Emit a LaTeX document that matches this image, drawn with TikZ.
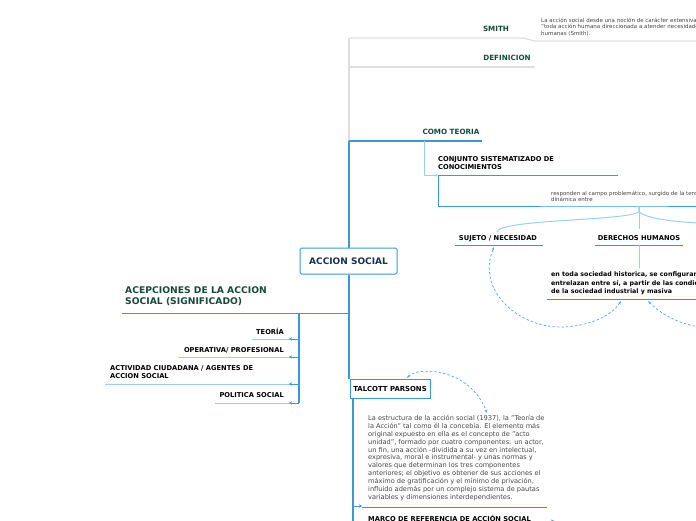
\documentclass[tikz,border=0pt]{standalone}
\usepackage{fontspec}
\setmainfont{DejaVu Sans}
\usetikzlibrary{arrows.meta}
\definecolor{lineblue}{HTML}{3A97DE}
\definecolor{paleblue}{HTML}{9ACFF5}
\definecolor{linegray}{HTML}{DEDEDE}
\definecolor{titlegreen}{HTML}{154A3A}
\definecolor{rootnavy}{HTML}{1B2F57}
\definecolor{notegray}{HTML}{444444}
\tikzset{
  trunk/.style={draw=lineblue, line width=1.2pt},
  uline/.style={draw=lineblue, line width=1pt},
  paleline/.style={draw=paleblue, line width=1pt},
  grayline/.style={draw=linegray, line width=1.2pt},
  tipl/.style={-{Stealth[length=3pt,width=3.5pt]}},
  dashlink/.style={draw=lineblue!85, dash pattern=on 2.5pt off 2pt, line width=0.7pt},
  gtitle/.style={font=\bfseries\fontsize{7.2}{9}\selectfont, text=titlegreen, inner sep=0, align=left},
  btitle/.style={font=\bfseries\fontsize{6.7}{8}\selectfont, inner sep=0, align=left},
  note/.style={font=\fontsize{5.5}{6.8}\selectfont, text=notegray, inner sep=0, align=left},
}
\begin{document}
\begin{tikzpicture}[x=1pt,y=-1pt]
\useasboundingbox (0,0) rectangle (696,520);
\clip (0,0) rectangle (696,520);

% centre and trunk
\node[draw=lineblue, line width=1pt, rounded corners=1.5pt, fill=white, minimum width=97pt, minimum height=26pt, font=\bfseries\fontsize{9}{10}\selectfont, text=rootnavy] (root) at (348.5,261) {ACCION SOCIAL};
\node[draw=lineblue, line width=1pt, fill=white, minimum width=80pt, minimum height=19pt, inner sep=0, font=\bfseries\fontsize{6.9}{8}\selectfont] (talc) at (390,389) {TALCOTT PARSONS};
\coordinate (top) at (349,38);
\coordinate (teoj) at (349,141);
\coordinate (acepj) at (349,313);
\draw[grayline] (top) -- (teoj);
\draw[trunk] (teoj) -- (root.north -| teoj);
\draw[trunk] (root.south -| teoj) -- (talc.north -| teoj);

% smith / definicion
\node[gtitle, anchor=base] (smith) at (496,31) {SMITH};
\node[note, anchor=north west] (smithtxt) at (541,17.5) {La acción social desde una noción de carácter extensiva\\"toda acción humana direccionada a atender necesidades\\humanas (Smith).};
\draw[grayline] (top) -- (520,38) .. controls (528,38) and (530,41) .. (538,41) -- (700,41);
\node[gtitle, anchor=base] (defin) at (507,60) {DEFINICION};
\coordinate (defj) at (349,67);
\draw[grayline] (defj) -- (535,67);

% como teoria
\node[gtitle, anchor=base] (teoria) at (451,134) {COMO TEORIA};
\draw[trunk] (teoj) -- (482,141);
\coordinate (teosplit) at (424,141);
\node[btitle, anchor=north west] (conj) at (438,156) {CONJUNTO SISTEMATIZADO DE\\CONOCIMIENTOS};
\coordinate (conjl) at (438,175);
\draw[paleline, tipl] (teosplit) |- (conjl);
\draw[uline] (conjl) -- (618,175);
\node[note, anchor=north west] (resp) at (551,190.5) {responden al campo problemático, surgido de la tensión\\dinámica entre};
\coordinate (respj) at (639,206);
\draw[uline] (conjl) |- (respj) -- (700,206);

% sujeto / derechos
\node[btitle, anchor=base] (sujeto) at (498,240.5) {SUJETO / NECESIDAD};
\node[btitle, anchor=base] (derechos) at (639,240.5) {DERECHOS HUMANOS};
\draw[paleline] (respj) -- ++(0,6) .. controls (625,221) and (500,219) .. (497,232);
\draw[paleline] (respj) -- ++(0,6) .. controls (650,220) and (680,222) .. (700,223);
\draw[paleline] (respj) -- (derechos.north |- 0,229);
\draw[uline] (455,245) -- (543,245);
\draw[uline] (595,245) -- (683,245);
\draw[paleline] (639,245) -- (639,268);
\node[btitle, anchor=north west, font=\bfseries\fontsize{6.3}{8.5}\selectfont] (config) at (551,272) {en toda sociedad historica, se configuran y\\entrelazan entre sí, a partir de las condiciones\\de la sociedad industrial y masiva};
\draw[uline] (547,299) -- (700,299);
\draw[dashlink, {Stealth[length=3.5pt]}-{Stealth[length=3.5pt]}] (621,301) .. controls (610,318) and (585,327) .. (560,327) .. controls (518,327) and (476,290) .. (494,247);
\draw[dashlink, {Stealth[length=3.5pt]}-] (648,301) .. controls (665,318) and (685,325) .. (700,327);

% acepciones
\node[gtitle, anchor=north west, font=\bfseries\fontsize{9.2}{11}\selectfont] (acep) at (125,286.5) {ACEPCIONES DE LA ACCION\\SOCIAL (SIGNIFICADO)};
\draw[uline] (acepj) -- (122,313);
\coordinate (acepsplit) at (299,313);
\draw[trunk, line width=1.7pt] (acepsplit) -- (299,403);
\foreach \y/\x in {339/252,357/178,384/105,403/215} {
  \draw[paleline] (299,\y) -- (\x,\y);
  \draw[uline, tipl] (299,\y) -- (289,\y);
}
\node[btitle, anchor=base east] (teor) at (284,334.5) {TEORÍA};
\node[btitle, anchor=base east] (oper) at (284,352.5) {OPERATIVA/ PROFESIONAL};
\node[btitle, anchor=north west] (activ) at (110,365.5) {ACTIVIDAD CIUDADANA / AGENTES DE\\ACCION SOCIAL};
\node[btitle, anchor=base east] (polit) at (284,397.5) {POLITICA SOCIAL};

% talcott parsons
\draw[dashlink, {Stealth[length=3.5pt]}-{Stealth[length=3.5pt]}] (407,378) .. controls (418,366) and (470,368) .. (487,413);
\coordinate (parj) at (353,506);
\draw[trunk] (talc.south -| parj) -- (353,525);
\draw[uline, tipl] (parj) -- (362,506);
\draw[uline] (362,507) -- (547,507);
\node[note, font=\fontsize{6.6}{7.9}\selectfont, anchor=north west] (partxt) at (368,415) {La estructura de la acción social (1937), la "Teoría de\\la Acción" tal como él la concebía. El elemento más\\original expuesto en ella es el concepto de "acto\\unidad", formado por cuatro componentes: un actor,\\un fin, una acción -dividida a su vez en intelectual,\\expresiva, moral e instrumental- y unas normas y\\valores que determinan los tres componentes\\anteriores; el objetivo es obtener de sus acciones el\\máximo de gratificación y el mínimo de privación,\\influido además por un complejo sistema de pautas\\variables y dimensiones interdependientes.};
\node[btitle, anchor=base west] (marco) at (368,521.5) {MARCO DE REFERENCIA DE ACCIÓN SOCIAL};
\draw[dashlink, -{Stealth[length=3.5pt]}] (558,526) -- (551,519.5);
\end{tikzpicture}
\end{document}
